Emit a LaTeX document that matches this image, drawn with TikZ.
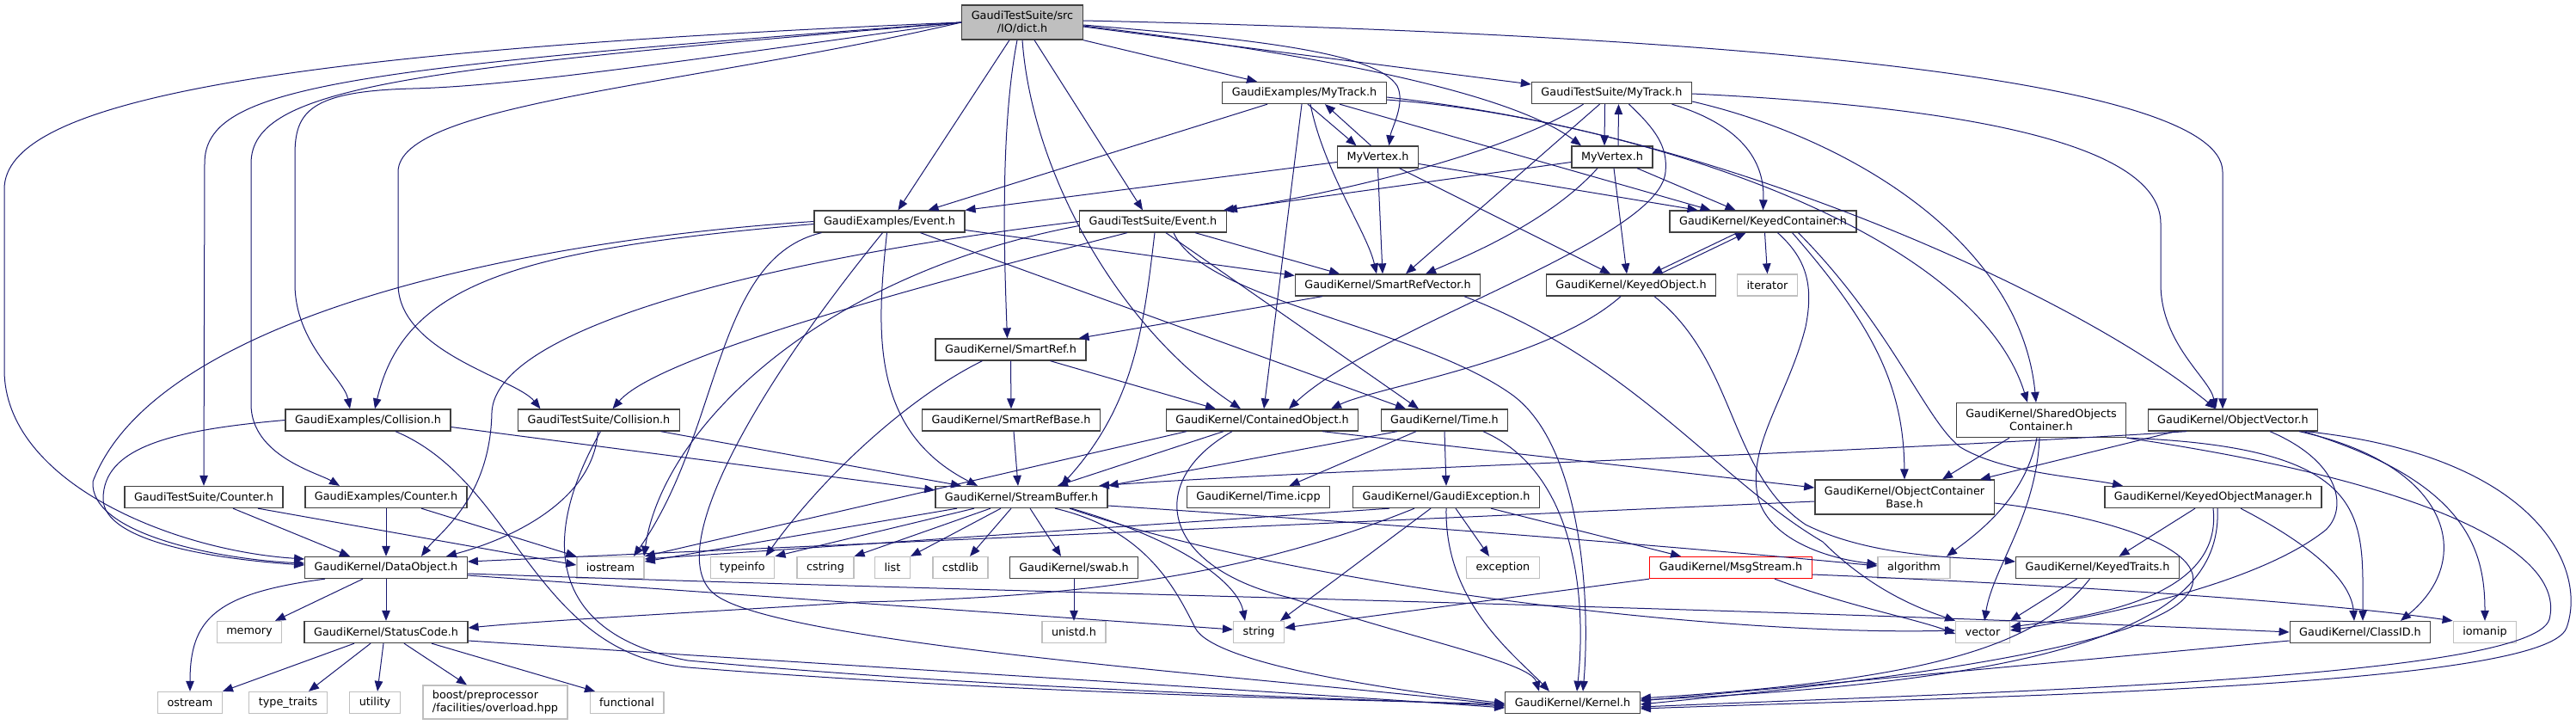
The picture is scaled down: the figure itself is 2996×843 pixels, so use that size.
\documentclass[tikz,border=0pt]{standalone}
\usepackage{fontspec}
\usetikzlibrary{arrows.meta}
\newfontfamily\dxfont{DejaVu Sans}
\definecolor{edgeblue}{HTML}{191970}
\definecolor{sysgray}{HTML}{BFBFBF}
\definecolor{framegray}{HTML}{404040}

\begin{document}
\begin{tikzpicture}[x=1pt,y=-1pt,
    incl/.style={draw=framegray, line width=1.3pt, fill=white, minimum height=25pt,
      inner xsep=11pt, inner ysep=0pt, font=\dxfont\fontsize{12.8}{15}\selectfont},
    sysinc/.style={incl, draw=sysgray},
    rootinc/.style={incl, fill=sysgray, minimum height=40pt, align=center},
    twoline/.style={incl, minimum height=40pt, align=center},
    trunc/.style={incl, draw=red},
    dep/.style={edgeblue, line width=1pt, -{Triangle[length=12pt,width=9.5pt]}}]
    \useasboundingbox (0,0) rectangle (2996,843);
    \fill[white] (0,0) rectangle (2996,843);

    \node[rootinc] (dict) at (1189,26) {GaudiTestSuite/src\\/IO/dict.h};
    \node[incl] (exmytrack) at (1517,108) {GaudiExamples/MyTrack.h};
    \node[incl] (tsmytrack) at (1874.5,108) {GaudiTestSuite/MyTrack.h};
    \node[incl] (exvertex) at (1602.5,182.5) {MyVertex.h};
    \node[incl] (tsvertex) at (1875,182.5) {MyVertex.h};
    \node[incl] (exevent) at (1034.5,257.5) {GaudiExamples/Event.h};
    \node[incl] (tsevent) at (1341,257.5) {GaudiTestSuite/Event.h};
    \node[incl] (keyedcont) at (2050.5,257.5) {GaudiKernel/KeyedContainer.h};
    \node[incl] (smartrefvec) at (1614,331.5) {GaudiKernel/SmartRefVector.h};
    \node[incl] (keyedobj) at (1897,331.5) {GaudiKernel/KeyedObject.h};
    \node[sysinc] (iterator) at (2055.5,331.5) {iterator};
    \node[incl] (smartref) at (1175.5,406.5) {GaudiKernel/SmartRef.h};
    \node[incl] (excoll) at (428,488.5) {GaudiExamples/Collision.h};
    \node[incl] (tscoll) at (696.5,488.5) {GaudiTestSuite/Collision.h};
    \node[incl] (smartrefbase) at (1176,488.5) {GaudiKernel/SmartRefBase.h};
    \node[incl] (contobj) at (1468,488.5) {GaudiKernel/ContainedObject.h};
    \node[incl] (time) at (1680,488.5) {GaudiKernel/Time.h};
    \node[twoline] (sharedobj) at (2374,488.5) {GaudiKernel/SharedObjects\\Container.h};
    \node[incl] (objvec) at (2597,488.5) {GaudiKernel/ObjectVector.h};
    \node[incl] (tscounter) at (237,578) {GaudiTestSuite/Counter.h};
    \node[incl] (excounter) at (449,578) {GaudiExamples/Counter.h};
    \node[incl] (streambuf) at (1188,578) {GaudiKernel/StreamBuffer.h};
    \node[incl] (timeicpp) at (1463.5,578) {GaudiKernel/Time.icpp};
    \node[incl] (gaudiexc) at (1682,578) {GaudiKernel/GaudiException.h};
    \node[twoline] (objcontbase) at (2215,578) {GaudiKernel/ObjectContainer\\Base.h};
    \node[incl] (keyedmgr) at (2574,578) {GaudiKernel/KeyedObjectManager.h};
    \node[incl] (dataobj) at (449,660) {GaudiKernel/DataObject.h};
    \node[sysinc] (iostream) at (710,660) {iostream};
    \node[sysinc] (typeinfo) at (863.5,660) {typeinfo};
    \node[sysinc] (cstring) at (960,660) {cstring};
    \node[sysinc] (list) at (1038,660) {list};
    \node[sysinc] (cstdlib) at (1117,660) {cstdlib};
    \node[incl] (swab) at (1249,660) {GaudiKernel/swab.h};
    \node[sysinc] (exception) at (1748,660) {exception};
    \node[trunc] (msgstream) at (2013,660) {GaudiKernel/MsgStream.h};
    \node[sysinc] (algorithm) at (2226,660) {algorithm};
    \node[incl] (keyedtraits) at (2439.5,660) {GaudiKernel/KeyedTraits.h};
    \node[sysinc] (memory) at (290,735) {memory};
    \node[incl] (statuscode) at (449,735) {GaudiKernel/StatusCode.h};
    \node[sysinc] (unistd) at (1249,735) {unistd.h};
    \node[sysinc] (string) at (1464,735) {string};
    \node[sysinc] (vector) at (2306,735) {vector};
    \node[incl] (classid) at (2745,735) {GaudiKernel/ClassID.h};
    \node[sysinc] (iomanip) at (2890,735) {iomanip};
    \node[sysinc] (ostream) at (221,817) {ostream};
    \node[sysinc] (typetraits) at (335,817) {type\_traits};
    \node[sysinc] (utility) at (436,817) {utility};
    \node[sysinc, minimum height=39pt, align=left] (boost) at (576,816.5) {boost/preprocessor\\/facilities/overload.hpp};
    \node[sysinc] (functional) at (729,817) {functional};
    \node[incl] (kernel) at (1829,817) {GaudiKernel/Kernel.h};

    % dict.h
    \draw[dep] (dict.west) .. controls (300,60) and (5,120) .. (5,220) -- (5,430) .. controls (5,560) and (200,640) .. ([yshift=10pt]dataobj.west);
    \draw[dep] (dict.west) .. controls (400,80) and (238,100) .. (238,190) -- (tscounter.north);
    \draw[dep] (dict.west) .. controls (480,80) and (292,100) .. (292,190) -- (292,470) .. controls (292,530) and (370,550) .. ([xshift=-54pt]excounter.north);
    \draw[dep] (dict.west) .. controls (800,70) and (600,100) .. (480,103) .. controls (360,106) and (343,130) .. (343,180) -- (343,330) .. controls (343,400) and (400,440) .. ([xshift=-21pt]excoll.north);
    \draw[dep] (dict.west) .. controls (800,100) and (463,120) .. (463,200) -- (463,330) .. controls (463,410) and (600,440) .. ([xshift=-68pt]tscoll.north);
    \draw[dep] ([xshift=-15pt]dict.south) -- ([xshift=10pt]exevent.north);
    \draw[dep] ([xshift=-6pt]dict.south) .. controls (1163,150) and (1168,300) .. ([xshift=-4pt]smartref.north);
    \draw[dep] (dict.south) .. controls (1200,200) and (1300,380) .. ([xshift=-25pt]contobj.north);
    \draw[dep] ([xshift=14pt]dict.south) -- ([xshift=-12pt]tsevent.north);
    \draw[dep] (dict.south east) -- ([xshift=-55pt]exmytrack.north);
    \draw[dep] ([yshift=-5pt]dict.east) -- ([yshift=10pt]tsmytrack.west);
    \draw[dep] ([yshift=-3pt]dict.east) .. controls (1450,45) and (1600,60) .. (1625,100) .. controls (1635,120) and (1618,150) .. ([xshift=13pt]exvertex.north);
    \draw[dep] ([yshift=-4pt]dict.east) .. controls (1550,65) and (1760,110) .. ([xshift=-36pt]tsvertex.north);
    \draw[dep] ([yshift=2pt]dict.east) .. controls (2000,40) and (2585,90) .. (2585,200) -- ([xshift=-12pt]objvec.north);

    % MyTrack.h, MyVertex.h
    \draw[dep] ([xshift=-43pt]exmytrack.south) -- ([xshift=45pt]exevent.north);
    \draw[dep] ([xshift=4pt]exmytrack.south) -- ([xshift=-25pt]exvertex.north);
    \draw[dep] ([xshift=7pt]exmytrack.south) .. controls (1540,200) and (1590,270) .. ([xshift=-13pt]smartrefvec.north);
    \draw[dep] ([xshift=-3pt]exmytrack.south) -- ([xshift=2pt]contobj.north);
    \draw[dep] ([xshift=41pt]exmytrack.south) -- ([xshift=-61pt]keyedcont.north);
    \draw[dep] ([yshift=-5pt]exmytrack.east) .. controls (1950,150) and (2300,280) .. ([xshift=-16pt]sharedobj.north);
    \draw[dep] ([yshift=-8pt]exmytrack.east) .. controls (1950,140) and (2400,330) .. ([xshift=-20pt]objvec.north);
    \draw[dep] ([xshift=-8pt]exvertex.north) -- ([xshift=24pt]exmytrack.south);
    \draw[dep] ([yshift=-6pt]exvertex.west) -- (exevent.north east);
    \draw[dep] (exvertex.south) -- ([xshift=-6pt]smartrefvec.north);
    \draw[dep] ([yshift=-8pt]exvertex.east) -- ([xshift=-76pt]keyedcont.north);
    \draw[dep] ([xshift=25pt]exvertex.south) -- ([xshift=-24pt]keyedobj.north);

    \draw[dep] ([xshift=-8pt]tsmytrack.south) -- ([xshift=-9pt]tsvertex.north);
    \draw[dep] ([xshift=7pt]tsvertex.north) -- ([xshift=8pt]tsmytrack.south);
    \draw[dep] ([xshift=-33pt]tsmytrack.south) .. controls (1750,180) and (1550,225) .. (tsevent.north east);
    \draw[dep] ([xshift=-14pt]tsmytrack.south) -- ([xshift=21pt]smartrefvec.north);
    \draw[dep] ([xshift=20pt]tsmytrack.south) .. controls (1925,150) and (1940,170) .. (1937,200) .. controls (1930,280) and (1600,380) .. ([xshift=31pt]contobj.north);
    \draw[dep] ([xshift=70pt]tsmytrack.south) .. controls (2040,150) and (2052,200) .. (keyedcont.north);
    \draw[dep] ([yshift=-10pt]tsmytrack.east) .. controls (2150,160) and (2350,280) .. ([xshift=-6pt]sharedobj.north);
    \draw[dep] ([yshift=-1pt]tsmytrack.east) .. controls (2300,125) and (2513,170) .. (2513,260) -- (2513,330) .. controls (2513,400) and (2570,440) .. ([xshift=-20pt]objvec.north);
    \draw[dep] ([yshift=-6pt]tsvertex.west) -- ([xshift=-4pt]tsevent.north east);
    \draw[dep] ([xshift=-17pt]tsvertex.south) .. controls (1800,260) and (1700,300) .. ([xshift=44pt]smartrefvec.north);
    \draw[dep] ([xshift=29pt]tsvertex.south) -- ([xshift=-32pt]keyedcont.north);
    \draw[dep] ([xshift=2pt]tsvertex.south) -- ([xshift=-5pt]keyedobj.north);

    % Event.h
    \draw[dep] (exevent.west) .. controls (600,280) and (180,370) .. (108,560) .. controls (104,620) and (250,650) .. ([yshift=5pt]dataobj.west);
    \draw[dep] ([yshift=-3pt]exevent.west) .. controls (600,290) and (470,330) .. ([xshift=8pt]excoll.north);
    \draw[dep] ([xshift=-79pt]exevent.south) .. controls (830,300) and (840,500) .. ([xshift=27pt]iostream.north);
    \draw[dep] ([xshift=-8pt]exevent.south) .. controls (880,450) and (770,640) .. (830,690) .. controls (900,750) and (1500,790) .. ([yshift=-3pt]kernel.west);
    \draw[dep] ([xshift=-3pt]exevent.south) .. controls (1020,380) and (1010,500) .. ([xshift=-51pt]streambuf.north);
    \draw[dep] ([xshift=36pt]exevent.south) -- ([xshift=-45pt]time.north);
    \draw[dep] ([yshift=-10pt]exevent.east) -- ([yshift=11pt]smartrefvec.west);

    \draw[dep] (tsevent.west) .. controls (900,300) and (575,380) .. (572,480) .. controls (570,580) and (510,620) .. ([xshift=41pt]dataobj.north);
    \draw[dep] ([xshift=-30pt]tsevent.south) .. controls (1000,350) and (760,420) .. ([xshift=16pt]tscoll.north);
    \draw[dep] ([yshift=-5pt]tsevent.west) .. controls (950,320) and (770,500) .. ([xshift=39pt]iostream.north);
    \draw[dep] ([xshift=2pt]tsevent.south) .. controls (1330,380) and (1320,470) .. ([xshift=46pt]streambuf.north);
    \draw[dep] ([xshift=15pt]tsevent.south) -- ([xshift=-30pt]time.north);
    \draw[dep] ([xshift=24pt]tsevent.south) .. controls (1400,350) and (1650,380) .. (1760,460) .. controls (1840,520) and (1850,700) .. ([xshift=12pt]kernel.north);
    \draw[dep] ([xshift=49pt]tsevent.south) -- ([xshift=-56pt]smartrefvec.north);

    % Collision.h, Counter.h
    \draw[dep] (excoll.west) .. controls (200,500) and (120,520) .. (120,580) .. controls (120,630) and (250,650) .. ([yshift=3pt]dataobj.west);
    \draw[dep] ([xshift=32pt]excoll.south) .. controls (600,560) and (620,760) .. (800,776) .. controls (1200,808) and (1600,814) .. ([yshift=-2pt]kernel.west);
    \draw[dep] ([yshift=-8pt]excoll.east) -- ([yshift=8pt]streambuf.west);
    \draw[dep] ([xshift=-1pt]tscoll.south) .. controls (690,580) and (600,625) .. ([xshift=70pt]dataobj.north);
    \draw[dep] ([xshift=2pt]tscoll.south) .. controls (620,640) and (650,740) .. (800,768) .. controls (1200,805) and (1600,812) .. ([yshift=-4pt]kernel.west);
    \draw[dep] ([xshift=72pt]tscoll.south) -- ([xshift=-70pt]streambuf.north);
    \draw[dep] ([xshift=34pt]tscounter.south) -- ([xshift=-42pt]dataobj.north);
    \draw[dep] ([xshift=63pt]tscounter.south) -- ([yshift=3pt]iostream.west);
    \draw[dep] (excounter.south) -- (dataobj.north);
    \draw[dep] ([xshift=41pt]excounter.south) -- (iostream.north west);

    % DataObject.h, StatusCode.h
    \draw[dep] ([xshift=-27pt]dataobj.south) -- ([xshift=30pt]memory.north);
    \draw[dep] ([xshift=-71pt]dataobj.south) .. controls (250,690) and (221,720) .. (ostream.north);
    \draw[dep] (dataobj.south) -- (statuscode.north);
    \draw[dep] ([yshift=-7pt]dataobj.east) .. controls (1200,690) and (2000,705) .. (classid.west);
    \draw[dep] ([yshift=-9pt]dataobj.east) -- ([yshift=3pt]string.west);
    \draw[dep] ([xshift=-37pt]statuscode.south) -- (ostream.north east);
    \draw[dep] ([xshift=-18pt]statuscode.south) -- ([xshift=24pt]typetraits.north);
    \draw[dep] ([xshift=-3pt]statuscode.south) -- ([xshift=3pt]utility.north);
    \draw[dep] ([xshift=21pt]statuscode.south) -- ([xshift=-33pt]boost.north);
    \draw[dep] ([xshift=53pt]statuscode.south) -- ([xshift=-37pt]functional.north);
    \draw[dep] ([yshift=-10pt]statuscode.east) .. controls (1000,775) and (1500,805) .. ([yshift=-6pt]kernel.west);

    % SmartRef.h and friends
    \draw[dep] (smartref.south) -- (smartrefbase.north);
    \draw[dep] ([xshift=46pt]smartref.south) -- ([xshift=-54pt]contobj.north);
    \draw[dep] ([xshift=-33pt]smartref.south) .. controls (1060,460) and (960,550) .. ([xshift=27pt]typeinfo.north);
    \draw[dep] ([xshift=3pt]smartrefbase.south) -- ([xshift=-4pt]streambuf.north);
    \draw[dep] ([xshift=-76pt]smartrefvec.south) -- ([xshift=79pt]smartref.north);
    \draw[dep] ([xshift=89pt]smartrefvec.south) .. controls (1900,420) and (2000,560) .. (2120,630) .. controls (2180,690) and (2240,710) .. (vector.north west);

    % ContainedObject.h, Time.h
    \draw[dep] ([xshift=-88pt]contobj.south) -- (iostream.north east);
    \draw[dep] ([xshift=-45pt]contobj.south) -- ([xshift=42pt]streambuf.north);
    \draw[dep] ([xshift=-35pt]contobj.south) .. controls (1330,560) and (1350,660) .. (1500,695) .. controls (1650,745) and (1780,770) .. ([xshift=-39pt]kernel.north);
    \draw[dep] ([xshift=70pt]contobj.south) -- ([yshift=11pt]objcontbase.west);
    \draw[dep] ([xshift=-55pt]time.south) -- (streambuf.north east);
    \draw[dep] ([xshift=-33pt]time.south) -- ([xshift=36pt]timeicpp.north);
    \draw[dep] (time.south) -- (gaudiexc.north);
    \draw[dep] ([xshift=45pt]time.south) .. controls (1835,550) and (1845,700) .. ([xshift=5pt]kernel.north);

    % GaudiException.h, MsgStream.h
    \draw[dep] ([xshift=-66pt]gaudiexc.south) -- ([yshift=10pt]iostream.east);
    \draw[dep] ([xshift=-37pt]gaudiexc.south) .. controls (1450,670) and (1250,695) .. (1000,700) .. controls (850,710) and (650,720) .. ([yshift=5pt]statuscode.east);
    \draw[dep] ([xshift=-18pt]gaudiexc.south) -- ([xshift=25pt]string.north);
    \draw[dep] (gaudiexc.south) .. controls (1680,700) and (1760,760) .. ([xshift=-27pt]kernel.north);
    \draw[dep] ([xshift=11pt]gaudiexc.south) -- ([xshift=-16pt]exception.north);
    \draw[dep] ([xshift=52pt]gaudiexc.south) -- ([xshift=-58pt]msgstream.north);
    \draw[dep] (msgstream.south west) -- ([yshift=5pt]string.east);
    \draw[dep] ([xshift=51pt]msgstream.south) .. controls (2150,705) and (2230,720) .. ([yshift=-2pt]vector.west);
    \draw[dep] ([yshift=-8pt]msgstream.east) .. controls (2400,680) and (2700,700) .. (iomanip.north west);

    % StreamBuffer.h
    \draw[dep] ([xshift=-75pt]streambuf.south) -- ([yshift=7pt]iostream.east);
    \draw[dep] ([xshift=-55pt]streambuf.south) -- (typeinfo.north east);
    \draw[dep] ([xshift=-36pt]streambuf.south) -- (cstring.north east);
    \draw[dep] ([xshift=-24pt]streambuf.south) -- (list.north east);
    \draw[dep] ([xshift=-12pt]streambuf.south) -- ([xshift=11pt]cstdlib.north);
    \draw[dep] ([xshift=10pt]streambuf.south) -- ([xshift=-15pt]swab.north);
    \draw[dep] ([xshift=58pt]streambuf.south) .. controls (1380,630) and (1440,680) .. ([xshift=-16pt]string.north);
    \draw[dep] ([xshift=39pt]streambuf.south) .. controls (1330,615) and (1365,680) .. (1390,730) .. controls (1410,770) and (1600,800) .. ([yshift=-1pt]kernel.west);
    \draw[dep] ([xshift=56pt]streambuf.south) .. controls (1500,680) and (2000,740) .. ([yshift=2pt]vector.west);
    \draw[dep] ([yshift=-10pt]streambuf.east) .. controls (1700,615) and (2000,640) .. ([yshift=2pt]algorithm.west);
    \draw[dep] (swab.south) -- (unistd.north);

    % KeyedContainer.h, KeyedObject.h
    \draw[dep] ([xshift=2pt]keyedcont.south) -- (iterator.north);
    \draw[dep] ([xshift=-30pt]keyedcont.south) -- ([xshift=24pt]keyedobj.north);
    \draw[dep] ([xshift=34pt]keyedobj.north) -- ([xshift=-20pt]keyedcont.south);
    \draw[dep] ([xshift=17pt]keyedcont.south) .. controls (2100,300) and (2110,330) .. (2100,380) .. controls (2080,460) and (2030,520) .. (2045,580) .. controls (2060,630) and (2130,650) .. ([yshift=4pt]algorithm.west);
    \draw[dep] ([xshift=34pt]keyedcont.south) .. controls (2180,380) and (2214,450) .. (objcontbase.north);
    \draw[dep] ([xshift=41pt]keyedcont.south) .. controls (2200,380) and (2240,490) .. (2280,520) .. controls (2330,550) and (2420,555) .. ([xshift=-105pt]keyedmgr.north);
    \draw[dep] ([xshift=-12pt]keyedobj.south) .. controls (1800,420) and (1600,450) .. ([xshift=80pt]contobj.north);
    \draw[dep] ([xshift=27pt]keyedobj.south) .. controls (2020,420) and (2010,550) .. (2100,610) .. controls (2180,650) and (2290,648) .. ([yshift=7pt]keyedtraits.west);

    % SharedObjectsContainer.h, ObjectVector.h
    \draw[dep] ([xshift=-37pt]sharedobj.south) -- ([xshift=44pt]objcontbase.north);
    \draw[dep] ([xshift=-5pt]sharedobj.south) .. controls (2355,580) and (2300,620) .. ([xshift=38pt]algorithm.north);
    \draw[dep] ([xshift=-2pt]sharedobj.south) .. controls (2368,600) and (2318,660) .. ([xshift=2pt]vector.north);
    \draw[dep] (sharedobj.south east) .. controls (2760,520) and (2748,600) .. ([xshift=3pt]classid.north);
    \draw[dep] (sharedobj.south east) .. controls (2820,560) and (2985,640) .. (2965,720) .. controls (2945,790) and (2300,805) .. ([yshift=-5pt]kernel.east);
    \draw[dep] ([xshift=-54pt]objvec.south) .. controls (2100,530) and (1550,545) .. ([xshift=90pt]streambuf.north);
    \draw[dep] ([xshift=-67pt]objvec.south) -- ([xshift=88pt]objcontbase.north);
    \draw[dep] ([xshift=43pt]objvec.south) .. controls (2730,540) and (2730,600) .. (2700,620) .. controls (2620,680) and (2450,715) .. ([yshift=2pt]vector.east);
    \draw[dep] ([xshift=77pt]objvec.south) .. controls (2850,540) and (2880,650) .. ([xshift=47pt]classid.north);
    \draw[dep] ([xshift=82pt]objvec.south) .. controls (2870,560) and (2890,640) .. (iomanip.north);
    \draw[dep] ([xshift=85pt]objvec.south) .. controls (2950,530) and (3010,660) .. (2985,730) .. controls (2960,800) and (2300,810) .. ([yshift=-7pt]kernel.east);

    % ObjectContainerBase.h, KeyedObjectManager.h, KeyedTraits.h, ClassID.h
    \draw[dep] ([yshift=-5pt]objcontbase.west) -- ([yshift=7pt]dataobj.east);
    \draw[dep] ([yshift=-7pt]objcontbase.east) .. controls (2450,600) and (2580,640) .. (2545,690) .. controls (2500,760) and (2100,800) .. ([yshift=-2pt]kernel.east);
    \draw[dep] ([xshift=-21pt]keyedmgr.south) -- ([xshift=25pt]keyedtraits.north);
    \draw[dep] (keyedmgr.south) .. controls (2585,690) and (2450,715) .. ([yshift=6pt]vector.east);
    \draw[dep] ([xshift=5pt]keyedmgr.south) .. controls (2585,720) and (2420,790) .. ([yshift=3pt]kernel.east);
    \draw[dep] ([xshift=32pt]keyedmgr.south) .. controls (2700,640) and (2735,680) .. ([xshift=-7pt]classid.north);
    \draw[dep] ([xshift=-24pt]keyedtraits.south) -- (vector.north east);
    \draw[dep] ([xshift=-9pt]keyedtraits.south) .. controls (2370,750) and (2250,790) .. ([yshift=5pt]kernel.east);
    \draw[dep] ([yshift=-10pt]classid.west) -- ([yshift=2pt]kernel.east);
\end{tikzpicture}
\end{document}
